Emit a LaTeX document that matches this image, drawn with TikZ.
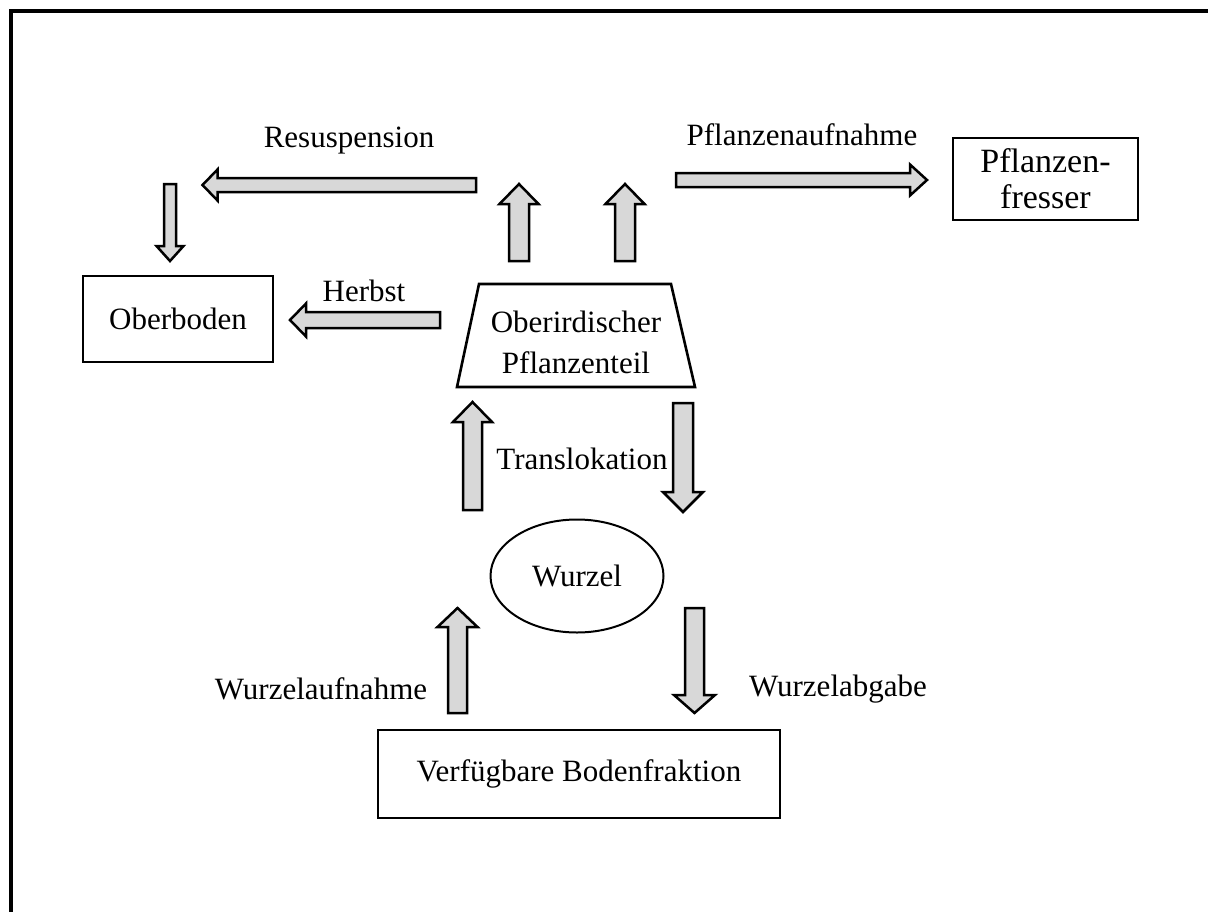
\documentclass[tikz,border=0pt]{standalone}
\usepackage{fontspec}
\setmainfont{Liberation Serif}
\usetikzlibrary{shapes.geometric}
\definecolor{arrowgray}{HTML}{D8D8D8}
\tikzset{
  blk/.style={draw=black, fill=arrowgray, line width=2.5pt, line join=miter},
  box/.style={draw=black, line width=2.6pt, inner sep=0pt, align=center},
  lbl/.style={inner sep=0pt, align=center},
}
\newcommand\hblk[6]{% xtail, xtip, y, bodyhalf, headhalf, headlen
  \pgfmathsetmacro\hbx{#2-#6*sign(#2-#1)}
  \draw[blk] (#1,#3-#4) -- (\hbx,#3-#4) -- (\hbx,#3-#5) -- (#2,#3) -- (\hbx,#3+#5) -- (\hbx,#3+#4) -- (#1,#3+#4) -- cycle;}
\newcommand\vblk[6]{% x, ytail, ytip, bodyhalf, headhalf, headlen
  \pgfmathsetmacro\hby{#3-#6*sign(#3-#2)}
  \draw[blk] (#1-#4,#2) -- (#1-#4,\hby) -- (#1-#5,\hby) -- (#1,#3) -- (#1+#5,\hby) -- (#1+#4,\hby) -- (#1+#4,#2) -- cycle;}
\begin{document}
\begin{tikzpicture}[x=1pt,y=-1pt]
\useasboundingbox (0,0) rectangle (1208,911);
\fill[white] (0,0) rectangle (1208,911);
% outer frame (right and bottom edges lie outside the picture)
\draw[line width=4pt] (11,916) -- (11,11) -- (1214,11);

\fontsize{31}{41}\selectfont
% nodes
\node[box, minimum width=190, minimum height=86] (oberboden) at (178,319) {Oberboden};
\node[box, minimum width=185, minimum height=82, font=\fontsize{34}{36}\selectfont] (fresser) at (1045.5,179) {Pflanzen-\\fresser};
\draw[line width=2.6pt, line join=miter] (479,284) -- (671,284) -- (695,387) -- (457,387) -- cycle;
\node[lbl] (ober) at (576,342) {Oberirdischer\\Pflanzenteil};
\node[draw, ellipse, line width=2pt, inner sep=0pt, minimum width=173, minimum height=113] (wurzel) at (577,576) {Wurzel};
\node[box, minimum width=402, minimum height=88] (boden) at (579,774) {Verfügbare Bodenfraktion};

% labels
\node[lbl] (tres) at (349,141) {Resuspension};
\node[lbl] (therb) at (364,291) {Herbst};
\node[lbl] (tpfl) at (802,135) {Pflanzenaufnahme};
\node[lbl] (ttrans) at (582,459) {Translokation};
\node[lbl] (tauf) at (321,689) {Wurzelaufnahme};
\node[lbl] (tab) at (838,689) {Wurzelabgabe};

% block arrows
\hblk{476}{202.5}{185}{7}{15.5}{15}
\vblk{170}{184}{261}{6}{13.5}{15}
\vblk{519}{261}{184}{10}{19.5}{20}
\vblk{625}{261}{184}{10}{19.5}{20}
\hblk{676}{927}{180}{7}{15.5}{17}
\hblk{440}{290}{320}{8}{16.5}{16}
\vblk{472.5}{510}{402}{9.5}{19.5}{20}
\vblk{683}{403}{512}{10}{20}{20}
\vblk{457.5}{713}{608}{9.5}{20}{19}
\vblk{694.5}{608}{713}{9.5}{20.5}{18}
\end{tikzpicture}
\end{document}
